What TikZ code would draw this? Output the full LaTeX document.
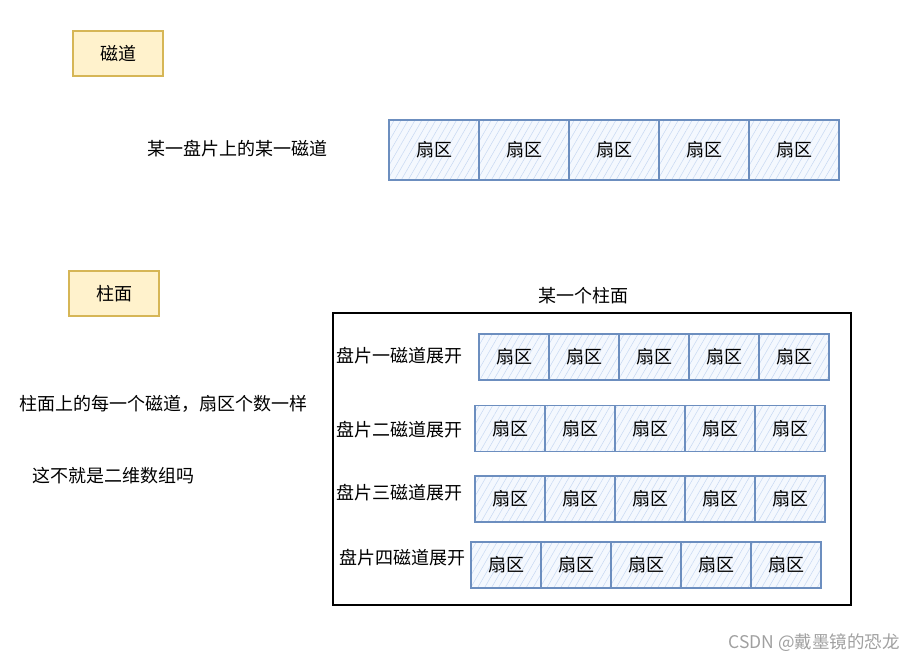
\documentclass[tikz,border=0pt]{standalone}
\usepackage{fontspec}
\setmainfont{Noto Sans CJK SC}
\usetikzlibrary{patterns.meta}
\definecolor{yfill}{HTML}{FFF2CC}
\definecolor{ydraw}{HTML}{D6B656}
\definecolor{bdraw}{HTML}{6C8EBF}
\definecolor{bhatch}{HTML}{C6D8F2}
\definecolor{bfill}{HTML}{F4F8FE}
\definecolor{wm}{HTML}{A0A0A0}
\begin{document}
\begin{tikzpicture}[x=1pt,y=-1pt,
  txt/.style={font=\fontsize{18}{21}\selectfont, inner sep=0pt},
  ybox/.style={draw=ydraw, fill=yfill, line width=1.2pt, minimum width=90pt, minimum height=45pt, inner sep=0pt, font=\fontsize{18}{21}\selectfont},
  cellbig/.style={draw=bdraw, line width=1.4pt, minimum width=90pt, minimum height=60pt, inner sep=0pt,
    preaction={fill=bfill}, pattern={Lines[angle=60,distance=6pt,line width=0.5pt]}, pattern color=bhatch,
    font=\fontsize{18}{21}\selectfont},
  cell/.style={cellbig, minimum width=70pt, minimum height=46pt}
]
\useasboundingbox (0,0) rectangle (904,659);
% top
\node[ybox] (cd) at (118,53.5) {磁道};
\node[txt] (t1) at (237,149) {某一盘片上的某一磁道};
\foreach \i in {1,...,5}{
  \node[cellbig] (a\i) at ({389+45+90*(\i-1)},150) {扇区};
}
% cylinder
\node[ybox] (zm) at (114,293.5) {柱面};
\node[txt] (t2) at (583,296) {某一个柱面};
\node[draw=black, line width=1.2pt, minimum width=518pt, minimum height=292pt, inner sep=0pt] (frame) at (592,459) {};
\node[txt] (l1) at (399,356) {盘片一磁道展开};
\node[txt] (l2) at (399,430) {盘片二磁道展开};
\node[txt] (l3) at (399,493) {盘片三磁道展开};
\node[txt] (l4) at (402,558) {盘片四磁道展开};
\foreach \i in {1,...,5}{
  \node[cell] (b\i) at ({479+35+70*(\i-1)},357) {扇区};
  \node[cell] (c\i) at ({475+35+70*(\i-1)},428.5) {扇区};
  \node[cell] (d\i) at ({475+35+70*(\i-1)},499) {扇区};
  \node[cell] (e\i) at ({471+35+70*(\i-1)},565) {扇区};
}
\node[txt] (t3) at (163,404) {柱面上的每一个磁道，扇区个数一样};
\node[txt] (t4) at (113,476) {这不就是二维数组吗};
\node[txt, text=wm, font=\fontsize{17.5}{20}\selectfont] (wmk) at (814,643) {CSDN @戴墨镜的恐龙};
\end{tikzpicture}
\end{document}
